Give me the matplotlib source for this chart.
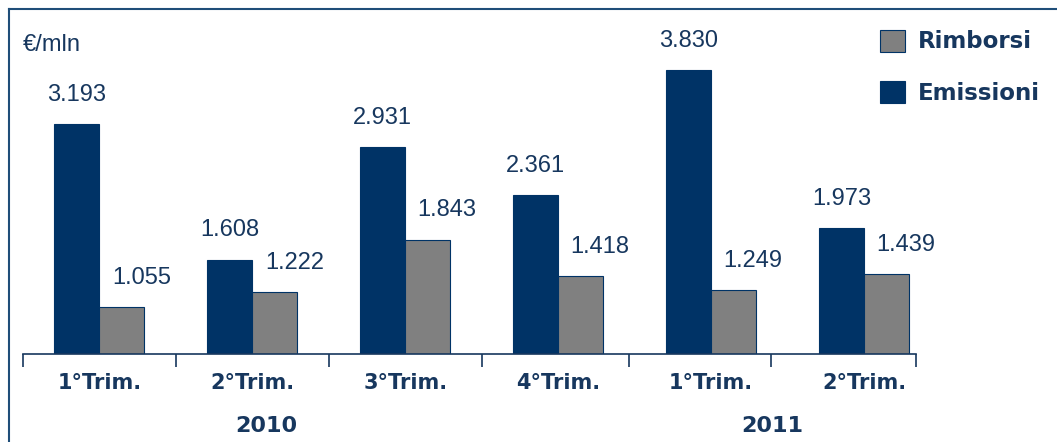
import matplotlib
matplotlib.use("Agg")
from matplotlib import pyplot as plt
from matplotlib.lines import Line2D
import numpy as np

# dati (milioni di euro)
trimestri = ['1°Trim.', '2°Trim.', '3°Trim.', '4°Trim.', '1°Trim.', '2°Trim.']
emissioni = [3193, 1608, 2931, 2361, 3830, 1973]
rimborsi = [1055, 1222, 1843, 1418, 1249, 1439]
anni = ['2010', '2011']
pos_anni = [1.09, 4.4]

blu = '#003366'
grigio = '#808080'
testo = '#17375e'

W, H = 1057, 442
fig = plt.figure(figsize=(W / 100, H / 100), dpi=100)
ax = fig.add_axes([23 / W, 88 / H, (916 - 23) / W, 341 / H])

x = np.arange(len(trimestri))
w = 0.294
b1 = ax.bar(x - w / 2, emissioni, w, color=blu, edgecolor=blu, linewidth=0.8, label='Emissioni')
b2 = ax.bar(x + w / 2, rimborsi, w, color=grigio, edgecolor=blu, linewidth=0.8, label='Rimborsi')

def fmt(v):
    return f'{v:,}'.replace(',', '.')

for bars, vals, dx in [(b1, emissioni, 0), (b2, rimborsi, 14)]:
    for r, v in zip(bars, vals):
        ax.annotate(fmt(v), (r.get_x() + r.get_width() / 2, r.get_height()),
                    xytext=(dx, 13), textcoords='offset points', ha='center', va='bottom',
                    fontsize=17, color=testo, family='Liberation Sans')

ax.set_xlim(-0.5, 5.34)
ax.set_ylim(500, 4500)
for s in ['top', 'right', 'left']:
    ax.spines[s].set_visible(False)
ax.spines['bottom'].set_color(testo)
ax.spines['bottom'].set_linewidth(1.2)
ax.set_yticks([])
ax.set_xticks([-0.5, 0.5, 1.5, 2.5, 3.46, 4.39, 5.34])
ax.set_xticklabels([])
ax.set_xticks(x, minor=True)
ax.set_xticklabels(trimestri, minor=True, fontsize=15, fontweight='bold', color=testo,
                   family='DejaVu Sans')
ax.tick_params(axis='x', which='major', length=9, width=1.2, color=testo, direction='out')
ax.tick_params(axis='x', which='minor', length=0, pad=14)

for a, p in zip(anni, pos_anni):
    ax.text(p, -0.21, a, transform=ax.get_xaxis_transform(), ha='center', va='center',
            fontsize=16, fontweight='bold', color=testo, family='DejaVu Sans')

fig.text(23 / W, 1 - 45 / H, '€/mln', fontsize=17, color=testo, family='Liberation Sans',
         va='center', ha='left')

leg = fig.legend([b2, b1], ['Rimborsi', 'Emissioni'], loc='upper left',
                 bbox_to_anchor=(859 / W, 1 - 9 / H), frameon=False,
                 prop={'family': 'DejaVu Sans', 'weight': 'bold', 'size': 16.5},
                 handlelength=1.1, handleheight=1.1, labelspacing=1.2, handletextpad=0.55,
                 labelcolor=testo)

# cornice
fig.add_artist(Line2D([9 / W, 1], [1 - 9 / H, 1 - 9 / H], transform=fig.transFigure,
                      color='#1f4e79', lw=1.5))
fig.add_artist(Line2D([9 / W, 9 / W], [0, 1 - 9 / H], transform=fig.transFigure,
                      color='#1f4e79', lw=1.5))

fig.savefig('out.png', dpi=100)
